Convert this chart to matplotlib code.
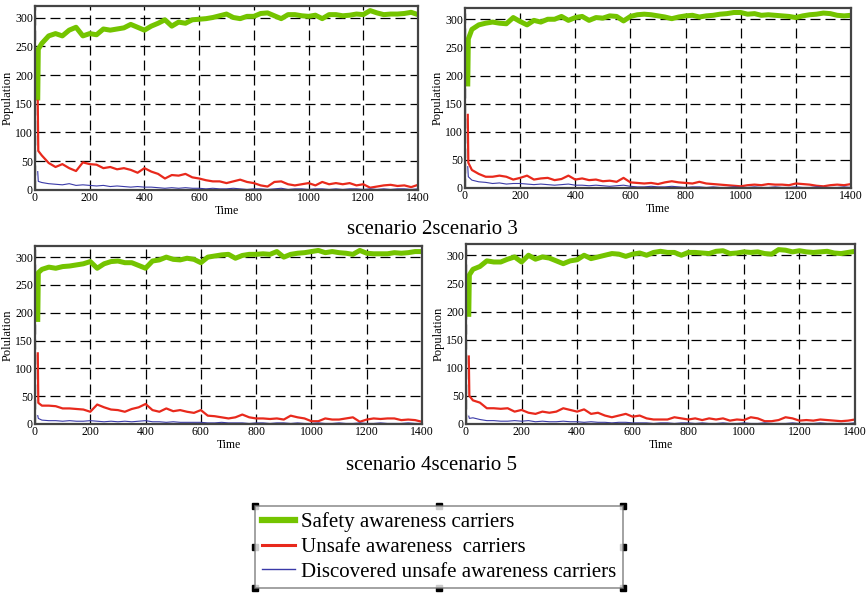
import numpy as np
import matplotlib
matplotlib.use('Agg')
import matplotlib.pyplot as plt
from matplotlib.lines import Line2D

plt.rcParams['font.family'] = ['Liberation Serif', 'DejaVu Serif']

# common time grid for all series (first sample at t=10, then every 25 steps)
time = [10, 12] + list(range(25, 1401, 25))

# scenario 2
s2_safe = [160, 245, 255, 268, 272, 268, 278, 283, 268, 272,
           270, 280, 278, 280, 282, 288, 283, 278, 285, 290,
           296, 285, 292, 290, 296, 297, 298, 300, 303, 306,
           300, 298, 302, 302, 307, 308, 303, 298, 305, 305,
           303, 302, 304, 298, 305, 305, 303, 304, 306, 305,
           312, 308, 305, 306, 306, 307, 309, 305]
s2_unsafe = [155, 68, 60, 47, 40, 45, 38, 33, 48, 45,
             44, 38, 40, 36, 38, 35, 30, 38, 32, 28,
             20, 26, 25, 28, 22, 20, 17, 15, 15, 12,
             15, 18, 14, 12, 8, 6, 14, 15, 10, 8,
             10, 12, 8, 14, 10, 12, 10, 12, 8, 10,
             4, 6, 8, 9, 7, 8, 5, 9]
s2_found = [32, 15, 13, 11, 10, 9, 11, 8, 9, 8,
            7, 8, 6, 7, 6, 5, 6, 5, 5, 4,
            3, 4, 3, 4, 3, 3, 2, 3, 2, 2,
            3, 2, 1, 2, 2, 1, 2, 3, 1, 2,
            2, 1, 2, 2, 1, 2, 1, 2, 2, 1,
            2, 1, 2, 1, 2, 2, 1, 2]

# scenario 3
s3_safe = [185, 265, 282, 290, 293, 295, 293, 292, 303, 296,
           290, 298, 295, 300, 300, 305, 298, 303, 305, 298,
           303, 302, 306, 305, 297, 305, 308, 309, 308, 306,
           304, 301, 304, 306, 307, 304, 306, 307, 309, 310,
           312, 312, 309, 310, 307, 308, 307, 306, 305, 303,
           306, 308, 309, 311, 310, 307, 306, 307]
s3_unsafe = [130, 45, 32, 25, 20, 20, 22, 20, 15, 18,
             22, 15, 17, 18, 14, 16, 22, 15, 17, 14,
             15, 12, 13, 11, 18, 10, 9, 8, 9, 7,
             10, 12, 10, 9, 8, 11, 8, 7, 6, 5,
             4, 3, 5, 6, 5, 7, 6, 6, 5, 8,
             7, 6, 4, 3, 5, 6, 5, 7]
s3_found = [38, 20, 14, 11, 10, 8, 9, 7, 8, 8,
            7, 6, 7, 6, 5, 6, 7, 5, 5, 4,
            5, 4, 3, 4, 5, 3, 2, 2, 3, 2,
            2, 3, 2, 1, 2, 2, 1, 2, 1, 1,
            2, 1, 1, 2, 1, 1, 2, 1, 1, 2,
            1, 1, 2, 1, 1, 1, 2, 1]

# scenario 4
s4_safe = [188, 272, 278, 282, 280, 283, 284, 286, 288, 292,
           280, 288, 292, 293, 290, 290, 285, 280, 293, 295,
           300, 296, 295, 298, 296, 290, 300, 302, 304, 305,
           298, 303, 305, 305, 306, 305, 310, 300, 305, 307,
           308, 310, 312, 308, 310, 308, 307, 305, 312, 307,
           306, 306, 306, 308, 307, 308, 310, 310]
s4_unsafe = [127, 38, 33, 33, 32, 28, 28, 27, 26, 22,
             35, 30, 26, 25, 22, 27, 30, 36, 25, 22,
             28, 23, 25, 22, 20, 25, 15, 14, 12, 10,
             12, 17, 12, 10, 10, 9, 10, 8, 15, 12,
             10, 5, 5, 10, 8, 8, 10, 12, 4, 8,
             10, 9, 10, 10, 7, 8, 7, 4]
s4_found = [15, 10, 7, 6, 6, 5, 6, 5, 5, 6,
            5, 4, 5, 4, 5, 4, 5, 6, 4, 4,
            3, 4, 3, 3, 3, 3, 2, 2, 3, 2,
            2, 2, 1, 2, 2, 1, 2, 2, 1, 2,
            1, 1, 2, 1, 1, 2, 1, 1, 2, 1,
            1, 2, 1, 1, 1, 2, 1, 1]

# scenario 5
s5_safe = [195, 265, 275, 280, 290, 288, 288, 293, 297, 288,
           300, 293, 297, 295, 290, 285, 290, 292, 300, 294,
           297, 300, 303, 302, 298, 302, 304, 300, 305, 307,
           305, 305, 300, 305, 305, 304, 303, 307, 308, 303,
           304, 306, 305, 306, 303, 302, 310, 309, 306, 308,
           306, 305, 306, 307, 304, 303, 305, 307]
s5_unsafe = [120, 50, 42, 38, 28, 28, 27, 28, 22, 25,
             20, 18, 22, 20, 22, 28, 25, 22, 26, 18,
             20, 15, 12, 15, 18, 13, 15, 10, 8, 8,
             8, 12, 10, 8, 10, 7, 10, 8, 10, 6,
             8, 7, 12, 10, 5, 5, 7, 12, 10, 6,
             7, 6, 8, 7, 6, 5, 6, 8]
s5_found = [14, 10, 11, 8, 6, 6, 5, 5, 6, 5,
            6, 4, 5, 4, 4, 5, 4, 4, 3, 4,
            3, 3, 2, 3, 3, 2, 2, 2, 1, 2,
            2, 1, 2, 2, 1, 2, 1, 1, 2, 1,
            1, 2, 1, 1, 2, 1, 1, 1, 2, 1,
            1, 1, 2, 1, 1, 1, 1, 2]

labels = ['Safety awareness carriers', 'Unsafe awareness  carriers',
          'Discovered unsafe awareness carriers']
ylabels = ['Population', 'Population', 'Polulation', 'Population']
captions = ['scenario 2scenario 3', 'scenario 4scenario 5']

GREEN = '#74c400'
RED = '#e8291c'
BLUE = '#3a3aa8'

W, H = 867, 593
fig = plt.figure(figsize=(W / 100, H / 100), dpi=100)

# panel boxes in pixels: left, top, right, bottom
boxes = [(35, 6, 418, 190), (465, 8, 851, 188), (35, 246, 422, 424), (466, 244, 855, 424)]
panels = [(s2_safe, s2_unsafe, s2_found), (s3_safe, s3_unsafe, s3_found),
          (s4_safe, s4_unsafe, s4_found), (s5_safe, s5_unsafe, s5_found)]

for (l, t, r, b), (safe, unsafe, found), ylab in zip(boxes, panels, ylabels):
    ax = fig.add_axes([l / W, 1 - b / H, (r - l) / W, (b - t) / H])
    ax.plot(time, safe, color=GREEN, lw=3.6, solid_joinstyle='round')
    ax.plot(time, unsafe, color=RED, lw=1.6)
    ax.plot(time, found, color=BLUE, lw=0.8)
    ax.set_xlim(0, 1400)
    ax.set_ylim(0, 320)
    ax.set_xticks(np.arange(0, 1401, 200))
    ax.set_yticks(np.arange(0, 301, 50))
    ax.grid(True, color='black', lw=0.9, linestyle=(0, (8, 4)))
    ax.tick_params(length=0, labelsize=8.5, pad=1.5)
    for sp in ax.spines.values():
        sp.set_color('#444444')
        sp.set_linewidth(1.6)
    ax.set_xlabel('Time', fontsize=8.5, labelpad=1)
    ax.set_ylabel(ylab, fontsize=9)
    ax.yaxis.set_label_coords(-21 / (r - l), 0.5)

fig.text(432 / W, 1 - 229 / H, captions[0], ha='center', va='center', fontsize=15)
fig.text(432 / W, 1 - 466 / H, captions[1], ha='center', va='center', fontsize=15)

handles = [Line2D([], [], color=GREEN, lw=4.5),
           Line2D([], [], color=RED, lw=2.2),
           Line2D([], [], color=BLUE, lw=1.0)]
leg = fig.legend(handles, labels, loc='center', bbox_to_anchor=(439 / W, 1 - 547 / H),
                 fontsize=15, frameon=True, fancybox=False, handlelength=1.6,
                 handletextpad=0.3, labelspacing=0.25, borderpad=0.3,
                 borderaxespad=0)
leg.get_frame().set_edgecolor('#777777')
leg.get_frame().set_linewidth(1.2)

# selection handles round the legend box
fig.canvas.draw()
bb = leg.get_window_extent().transformed(fig.transFigure.inverted())
xs = [bb.x0, (bb.x0 + bb.x1) / 2, bb.x1]
ys = [bb.y0, (bb.y0 + bb.y1) / 2, bb.y1]
for x in xs:
    for y in ys:
        if x == xs[1] and y == ys[1]:
            continue
        fig.add_artist(Line2D([x], [y], marker='s', markersize=4, color='black',
                              transform=fig.transFigure))

fig.savefig('out.png', dpi=100)
